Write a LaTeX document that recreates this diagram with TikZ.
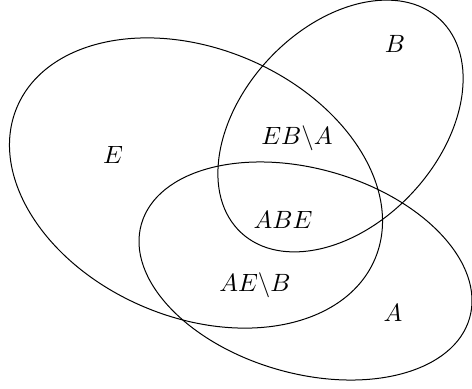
\documentclass[tikz,border=0pt]{standalone}
\begin{document}
\begin{tikzpicture}[x=0.4pt,y=0.4pt,
  setshape/.style={draw=black,line width=0.4pt},
  lbl/.style={inner sep=0pt}]
\useasboundingbox (0,0) rectangle (472,388);
\coordinate (cE) at (196,205);
\coordinate (cB) at (340.5,262);
\coordinate (cA) at (305.5,117);
\draw[setshape] (cE) ellipse [x radius=194.4, y radius=134.3, rotate=-23];
\draw[setshape] (cB) ellipse [x radius=145.8, y radius=98.1, rotate=47];
\draw[setshape] (cA) ellipse [x radius=170.7, y radius=102.3, rotate=-16];
\node[lbl] (lB) at (395,344) {$B$};
\node[lbl] (lE) at (113,233) {$E$};
\node[lbl] (lEB) at (297,250) {$EB\backslash A$};
\node[lbl] (lABE) at (283,168) {$ABE$};
\node[lbl] (lAE) at (255,103) {$AE\backslash B$};
\node[lbl] (lA) at (393,75) {$A$};
\end{tikzpicture}
\end{document}
